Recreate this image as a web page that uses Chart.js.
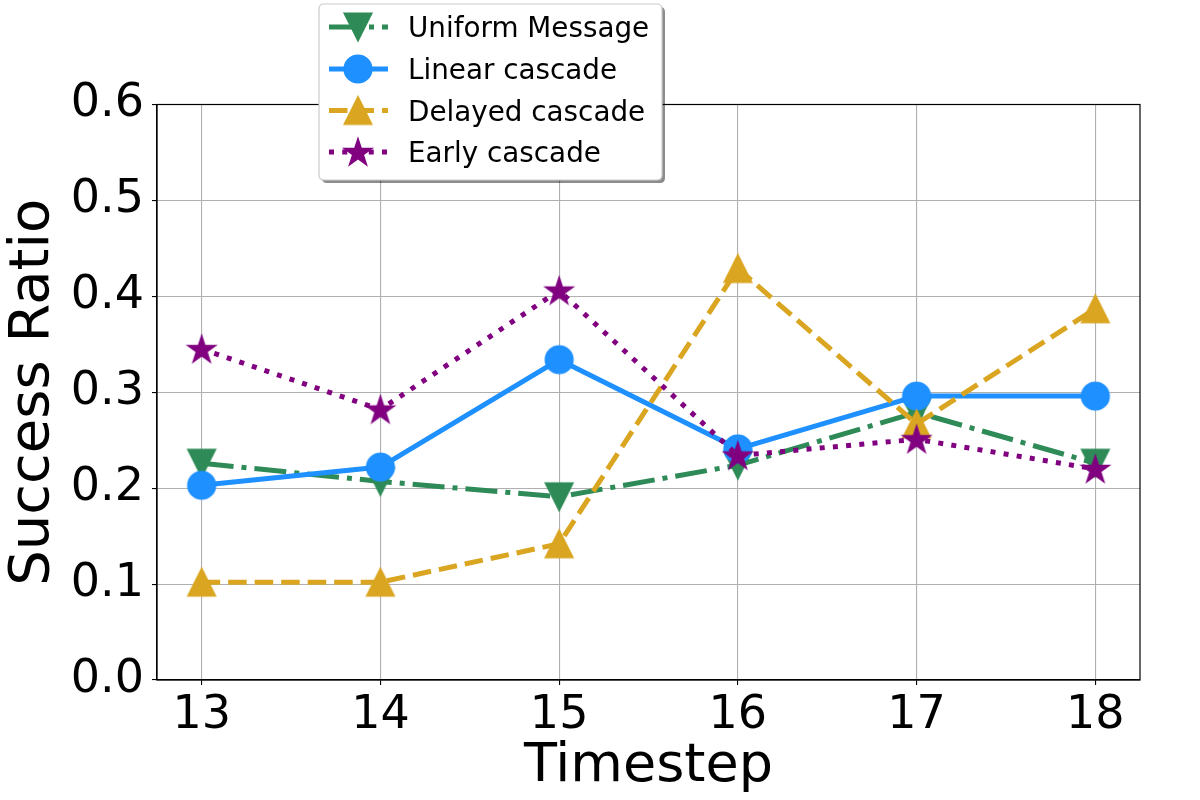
<!DOCTYPE html>
<html>
<head>
<meta charset="utf-8">
<script src="https://cdn.jsdelivr.net/npm/chart.js@4/dist/chart.umd.min.js"></script>
<style>
html,body{margin:0;padding:0;background:#fff;}
#wrap{width:1200px;height:800px;}
</style>
</head>
<body>
<div id="wrap"><canvas id="c" width="1200" height="800"></canvas></div>
<script>
const timesteps = [13, 14, 15, 16, 17, 18];
const uniformMessage = [0.226, 0.207, 0.191, 0.224, 0.279, 0.226];
const linearCascade  = [0.203, 0.222, 0.334, 0.241, 0.296, 0.296];
const delayedCascade = [0.102, 0.102, 0.142, 0.429, 0.267, 0.387];
const earlyCascade   = [0.345, 0.282, 0.406, 0.234, 0.251, 0.220];
const seriesNames = ['Uniform Message', 'Linear cascade', 'Delayed cascade', 'Early cascade'];
const yTicks = [0, 0.1, 0.2, 0.3, 0.4, 0.5, 0.6];

const FONT = '"DejaVu Sans", "Liberation Sans", sans-serif';

function makeMarker(kind, color) {
  const s = 36;
  const cv = document.createElement('canvas');
  cv.width = s; cv.height = s;
  const ctx = cv.getContext('2d');
  const c = s / 2;
  ctx.fillStyle = color;
  ctx.strokeStyle = color;
  ctx.lineWidth = 1.4;
  ctx.lineJoin = 'miter';
  ctx.beginPath();
  const h = 13.9;
  if (kind === 'down') {
    ctx.moveTo(c - h, c - h); ctx.lineTo(c + h, c - h); ctx.lineTo(c, c + h);
  } else if (kind === 'up') {
    ctx.moveTo(c - h, c + h); ctx.lineTo(c + h, c + h); ctx.lineTo(c, c - h);
  } else if (kind === 'star') {
    const R = 14.6, r = R * 0.381966;
    for (let i = 0; i < 10; i++) {
      const rad = (i % 2 === 0) ? R : r;
      const a = -Math.PI / 2 + i * Math.PI / 5;
      const x = c + rad * Math.cos(a), y = c + 1 + rad * Math.sin(a);
      if (i === 0) ctx.moveTo(x, y); else ctx.lineTo(x, y);
    }
  } else {
    ctx.arc(c, c, 13.9, 0, Math.PI * 2);
  }
  ctx.closePath();
  ctx.fill();
  ctx.stroke();
  return cv;
}

const colors = ['#2E8B57', '#1E90FF', '#DAA520', '#800080'];
const markers = [
  makeMarker('down', colors[0]),
  makeMarker('circle', colors[1]),
  makeMarker('up', colors[2]),
  makeMarker('star', colors[3])
];
const dashes = [[32, 8, 5, 8], [], [18.5, 8], [5, 8.25]];
const seriesData = [uniformMessage, linearCascade, delayedCascade, earlyCascade];

const datasets = seriesData.map((vals, k) => ({
  label: seriesNames[k],
  data: timesteps.map((t, i) => ({x: t, y: vals[i]})),
  borderColor: colors[k],
  backgroundColor: colors[k],
  borderWidth: 5,
  borderDash: dashes[k],
  borderCapStyle: 'butt',
  borderJoinStyle: 'round',
  pointStyle: markers[k],
  pointRadius: 15,
  pointHoverRadius: 15,
  tension: 0,
  fill: false,
  order: 3 - k
}));

const legendPlugin = {
  id: 'mplLegend',
  afterDraw(chart) {
    const ctx = chart.ctx;
    const bx = 319, by = 4, bw = 343, bh = 176, r = 5;
    function rr(x, y, w, h) {
      ctx.beginPath();
      ctx.moveTo(x + r, y);
      ctx.lineTo(x + w - r, y); ctx.quadraticCurveTo(x + w, y, x + w, y + r);
      ctx.lineTo(x + w, y + h - r); ctx.quadraticCurveTo(x + w, y + h, x + w - r, y + h);
      ctx.lineTo(x + r, y + h); ctx.quadraticCurveTo(x, y + h, x, y + h - r);
      ctx.lineTo(x, y + r); ctx.quadraticCurveTo(x, y, x + r, y);
      ctx.closePath();
    }
    ctx.save();
    rr(bx + 3, by + 3, bw, bh);
    ctx.fillStyle = 'rgba(0,0,0,0.45)';
    ctx.fill();
    rr(bx, by, bw, bh);
    ctx.fillStyle = '#ffffff';
    ctx.fill();
    ctx.lineWidth = 1.2;
    ctx.strokeStyle = '#cccccc';
    ctx.stroke();
    const rows = [27, 69, 110.5, 152];
    chart.data.datasets.forEach((ds, k) => {
      const y = rows[k];
      ctx.save();
      ctx.beginPath();
      ctx.setLineDash(ds.borderDash);
      ctx.lineCap = 'butt';
      ctx.strokeStyle = ds.borderColor;
      ctx.lineWidth = ds.borderWidth;
      ctx.moveTo(329, y); ctx.lineTo(388, y);
      ctx.stroke();
      ctx.restore();
      const m = ds.pointStyle;
      ctx.drawImage(m, 358 - m.width / 2, y - m.height / 2);
      ctx.fillStyle = '#000';
      ctx.font = '27.8px ' + FONT;
      ctx.textBaseline = 'middle';
      ctx.textAlign = 'left';
      ctx.fillText(ds.label, 408, y + 3);
    });
    ctx.restore();
  }
};

const framePlugin = {
  id: 'frame',
  afterDatasetsDraw(chart) {
    const a = chart.chartArea, ctx = chart.ctx;
    ctx.save();
    ctx.strokeStyle = '#000';
    ctx.lineWidth = 1.2;
    ctx.strokeRect(a.left, a.top, a.right - a.left, a.bottom - a.top);
    ctx.restore();
  }
};

new Chart(document.getElementById('c'), {
  type: 'line',
  data: {datasets},
  options: {
    responsive: false,
    animation: false,
    events: [],
    devicePixelRatio: 1,
    layout: {padding: {left: 0, top: 104.5, right: 60, bottom: 0}},
    plugins: {legend: {display: false}, tooltip: {enabled: false}, title: {display: false}},
    scales: {
      x: {
        type: 'linear',
        min: 12.75, max: 18.25,
        afterBuildTicks(scale) { scale.ticks = timesteps.map(v => ({value: v})); },
        afterFit(scale) { scale.height = 120; },
        grid: {color: '#b0b0b0', lineWidth: 1.1, tickColor: '#000', tickLength: 5, drawTicks: true},
        border: {display: true, color: '#000', width: 1.2},
        ticks: {font: {family: FONT, size: 46}, color: '#000', padding: 3, maxRotation: 0,
                callback: v => String(v)},
        title: {display: true, text: 'Timestep', font: {family: FONT, size: 54}, color: '#000',
                padding: {top: 0, bottom: 1}}
      },
      y: {
        type: 'linear',
        min: 0, max: 0.6,
        afterBuildTicks(scale) { scale.ticks = yTicks.map(v => ({value: v})); },
        afterFit(scale) { scale.width = 157; },
        grid: {color: '#b0b0b0', lineWidth: 1.1, tickColor: '#000', tickLength: 5, drawTicks: true},
        border: {display: true, color: '#000', width: 1.2},
        ticks: {font: {family: FONT, size: 46}, color: '#000', padding: 8,
                callback: v => Number(v).toFixed(1)},
        title: {display: true, text: 'Success Ratio', font: {family: FONT, size: 56}, color: '#000',
                padding: {top: 0, bottom: 0}}
      }
    }
  },
  plugins: [framePlugin, legendPlugin]
});
</script>
</body>
</html>
